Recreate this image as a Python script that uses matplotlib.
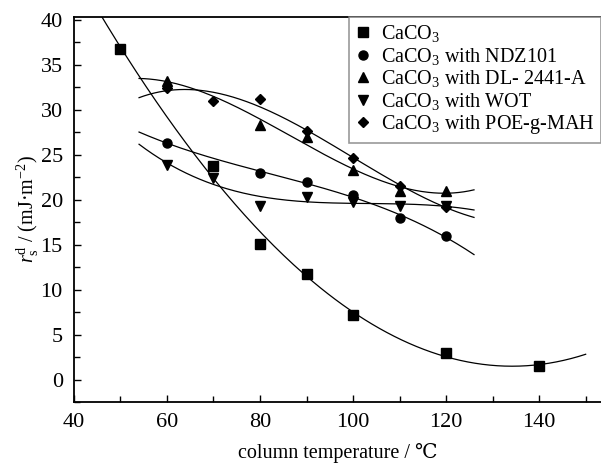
import numpy as np
import matplotlib
matplotlib.use("Agg")
import matplotlib.pyplot as plt
from matplotlib.ticker import MultipleLocator

plt.rcParams['font.family'] = ['Liberation Serif', 'DejaVu Serif']
plt.rcParams['mathtext.fontset'] = 'custom'
plt.rcParams['mathtext.rm'] = 'Liberation Serif'
plt.rcParams['mathtext.it'] = 'Liberation Serif:italic'

# dispersive surface energy vs column temperature
temp_caco3 = [50, 70, 80, 90, 100, 120, 140]
caco3 = [36.7, 23.7, 15.1, 11.7, 7.2, 3.0, 1.5]

temp_ndz = [60, 80, 90, 100, 110, 120]
ndz101 = [26.3, 23.0, 21.9, 20.5, 18.0, 15.9]

temp_dl = [60, 80, 90, 100, 110, 120]
dl2441 = [33.2, 28.3, 27.0, 23.3, 21.0, 20.9]

temp_wot = [60, 70, 80, 90, 100, 110, 120]
wot = [23.9, 22.4, 19.3, 20.3, 19.7, 19.3, 19.3]

temp_poe = [60, 70, 80, 90, 100, 110, 120]
poe = [32.4, 31.0, 31.2, 27.6, 24.6, 21.5, 19.2]

labels = ['CaCO$_3$', 'CaCO$_3$ with NDZ101', 'CaCO$_3$ with DL- 2441-A',
          'CaCO$_3$ with WOT', 'CaCO$_3$ with POE-g-MAH']

series = [
    (temp_caco3, caco3, 's', (45, 150)),
    (temp_ndz, ndz101, 'o', (54, 126)),
    (temp_dl, dl2441, '^', (54, 126)),
    (temp_wot, wot, 'v', (54, 126)),
    (temp_poe, poe, 'D', (54, 126)),
]

fig = plt.figure(figsize=(6.01, 4.65), dpi=100)
ax = fig.add_axes([0.123, 0.1355, 0.877, 0.828])

for (x, y, m, rng), lab in zip(series, labels):
    coef = np.polyfit(x, y, 3)
    xs = np.linspace(rng[0], rng[1], 200)
    ax.plot(xs, np.polyval(coef, xs), color='black', lw=0.9)
    ms = 5.5 if m == 'D' else 6.5
    ax.plot(x, y, m, color='black', ms=ms, label=lab, linestyle='none')

ax.set_xlim(40, 153.3)
ax.set_ylim(-2.5, 40.3)
ax.xaxis.set_major_locator(MultipleLocator(20))
ax.xaxis.set_minor_locator(MultipleLocator(10))
ax.yaxis.set_major_locator(MultipleLocator(5))
ax.yaxis.set_minor_locator(MultipleLocator(2.5))
ax.tick_params(which='both', direction='in', top=False, right=False, labelsize=16, width=1)
ax.tick_params(which='major', length=5)
ax.tick_params(which='minor', length=4)
ax.tick_params(axis='x', pad=8)
ax.tick_params(axis='y', pad=8)
for s in ax.spines.values():
    s.set_linewidth(1.3)
ax.spines['right'].set_visible(False)

ax.set_xlabel('column temperature / \u2103', fontsize=14.5, labelpad=8)
ax.set_ylabel('$r^{\\mathrm{d}}_{\\mathrm{s}}$ / (mJ\u00b7m$^{-2}$)', fontsize=14.5, labelpad=0)

leg = ax.legend(loc='upper right', bbox_to_anchor=(1.0, 1.0), fontsize=14.5,
                handlelength=0.8, handletextpad=0.5, labelspacing=0.08,
                borderpad=0.3, borderaxespad=0, frameon=True, fancybox=False,
                markerscale=1.0)
leg.get_frame().set_edgecolor('gray')
leg.get_frame().set_linewidth(1.2)

plt.savefig('out.png', dpi=100)
